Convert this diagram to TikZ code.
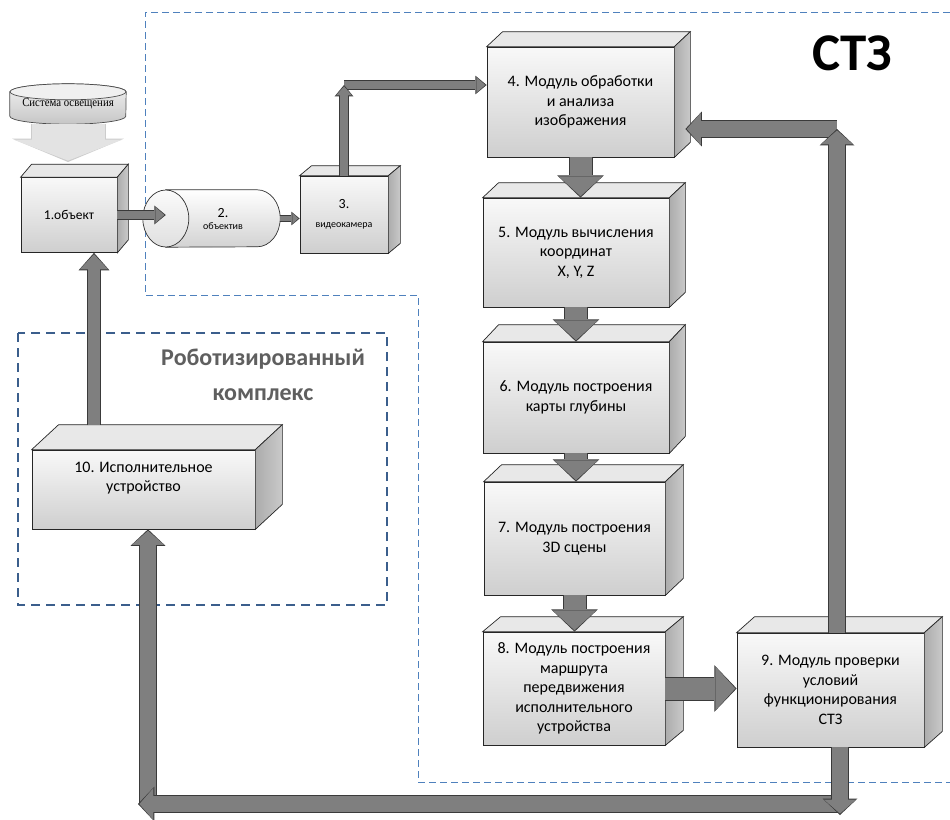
\documentclass[tikz,border=0pt]{standalone}
\usepackage{fontspec}
\setmainfont{Carlito}
\newfontfamily\lampfont[FakeStretch=0.9]{Liberation Serif}
\usetikzlibrary{arrows.meta,calc,backgrounds}

\definecolor{arrowgray}{HTML}{7F7F7F}
\definecolor{arrowedge}{HTML}{3A3A3A}
\definecolor{stzblue}{HTML}{4F81BD}
\definecolor{rkblue}{HTML}{3B5E8C}
\definecolor{rktext}{HTML}{5F5F5F}

\begin{document}
\begin{tikzpicture}[
		x=1pt, y=-1pt,
		cube/.style = {draw=black!85, line width=.7pt, top color=gray!5, bottom color=gray!38, align=center, inner sep=2pt, font=\fontsize{16}{19.5}\selectfont},
		topface/.style = {draw=black!85, line width=.7pt, fill=gray!18},
		sideface/.style = {draw=black!85, line width=.7pt, left color=gray!65, right color=gray!42},
		lamp/.style = {draw=black!70, line width=.7pt, top color=gray!10, bottom color=gray!45},
		lamptop/.style = {draw=black!70, line width=.7pt, fill=gray!12},
		tube/.style = {draw=black!80, line width=.7pt, top color=white, bottom color=gray!35},
		tubeend/.style = {draw=black!80, line width=.7pt, top color=gray!3, bottom color=gray!25},
		blockarrow/.style n args = {3}{draw=arrowgray, line width=#1pt, shorten >=1.4pt,
			-{Triangle[length=#3pt, width=#2pt, line width=0pt]},
			preaction={draw=arrowedge, line width=#1pt+2pt, shorten >=0pt,
				-{Triangle[length=#3pt+2.4pt, width=#2pt+2.8pt, line width=0pt]}}},
		big/.style = {blockarrow={22}{44}{20}},
		mid/.style = {blockarrow={16}{32}{14}},
		slim/.style = {blockarrow={12}{28}{15}},
		small/.style = {blockarrow={8}{16}{9}},
		tiny/.style = {blockarrow={5}{11}{6}},
		lightarrow/.style = {draw=gray!22, line width=73pt, shorten >=1.4pt,
			-{Triangle[length=21pt, width=109pt, line width=0pt]},
			preaction={draw=gray!40, line width=75pt, shorten >=0pt,
				-{Triangle[length=23.4pt, width=111.8pt, line width=0pt]}}},
		zone/.style = {draw=stzblue, line width=.9pt, dash pattern=on 7pt off 4pt},
		rkzone/.style = {draw=rkblue, line width=2.2pt, dash pattern=on 9pt off 6pt}
	]
	\useasboundingbox (0,0) rectangle (950,819);

	% Light and object.
	\node[minimum width=116pt, minimum height=40pt, inner sep=0pt, font=\lampfont\fontsize{12}{14}\selectfont] (light) at (68,104) {Система освещения};
	\node[cube, minimum width=96pt, minimum height=75pt, font=\fontsize{13.5}{16}\selectfont] (o1) at (69,215) {1.объект};
	\node[minimum width=114pt, minimum height=57pt, inner sep=0pt, align=center] (lens) at (223,218.5)
		{{\fontsize{14}{15}\selectfont 2.}\\{\fontsize{10}{12}\selectfont объектив}};
	\node[cube, minimum width=88pt, minimum height=77pt] (m3) at (344,214.5)
		{{\fontsize{14}{15}\selectfont 3.}\\{\fontsize{10}{12}\selectfont видеокамера}};

	% Modules.
	\node[cube, minimum width=187pt, minimum height=110pt] (m4) at (580.5,102) {4. Модуль обработки\\и анализа\\изображения};
	\node[cube, minimum width=186pt, minimum height=109pt] (m5) at (576,252.5) {5. Модуль вычисления\\координат\\X, Y, Z};
	\node[cube, minimum width=186pt, minimum height=111pt] (m6) at (576,397.5) {6. Модуль построения\\карты глубины};
	\node[cube, minimum width=181pt, minimum height=113pt] (m7) at (574.5,538.5) {7. Модуль построения\\3D сцены};
	\node[cube, minimum width=182pt, minimum height=113pt] (m8) at (574,688.5) {8. Модуль построения\\маршрута\\передвижения\\исполнительного\\устройства};
	\node[cube, minimum width=187pt, minimum height=114pt] (m9) at (830.5,690) {9. Модуль проверки\\условий\\функционирования\\СТЗ};
	\node[cube, minimum width=223pt, minimum height=79pt] (m10) at (143.5,489.5) {10. Исполнительное\\устройство\\[6pt]};

	\node[font=\bfseries\fontsize{24}{35}\selectfont, text=rktext, align=center] (rk) at (263,375) {Роботизированный\\комплекс};
	\node[font=\bfseries\fontsize{53}{60}\selectfont] (stz) at (852,53) {СТЗ};

	\begin{scope}[on background layer]
		\fill[white] (0,0) rectangle (950,819);
		\draw[zone] (950,12) -- (145,12) -- (145,295) -- (418,295) -- (418,782) -- (950,782);
		\draw[rkzone] (18,333) rectangle (387,605);
		\draw[lamp] ($(light.north west)+(0,8)$) -- ($(light.south west)+(0,-8)$)
			arc[start angle=180, end angle=360, x radius=58pt, y radius=8pt]
			-- ($(light.north east)+(0,8)$)
			arc[start angle=0, end angle=180, x radius=58pt, y radius=8pt] -- cycle;
		\draw[lamptop] ($(light.north)+(0,8)$) ellipse [x radius=58pt, y radius=8pt];
		\draw[tube] (lens.north west) -- ($(lens.north east)+(-23,0)$)
			arc[start angle=90, end angle=-90, x radius=23pt, y radius=28.5pt]
			-- (lens.south west) -- cycle;
		\draw[tubeend] (lens.west) ellipse [x radius=23pt, y radius=28.5pt];
	\end{scope}

	% 3D faces.
	\foreach \n/\dx/\dy in {o1/11/13, m3/12/10, m4/16/15, m5/16/15, m6/16/17, m7/18/17, m8/18/15, m9/18/16, m10/27/25} {
		\draw[topface] (\n.north west) -- ++(\dx,-\dy) -- ($(\n.north east)+(\dx,-\dy)$) -- (\n.north east) -- cycle;
		\draw[sideface] (\n.north east) -- ++(\dx,-\dy) -- ($(\n.south east)+(\dx,-\dy)$) -- (\n.south east) -- cycle;
	}

	\coordinate (ltip) at (68,162);
	\coordinate (c34) at (344,85);
	\coordinate (c94) at (837,129);
	\coordinate (c9d) at (840,815);
	\coordinate (cbl) at (138,804);
	\coordinate (cb10) at (148,804);
	\coordinate (c10) at (94,425);

	% Arrows.
	\draw[lightarrow] (light.south) -- (ltip);
	\draw[small] (o1.east) -- (o1.east -| lens.west);
	\draw[tiny] (lens.east) -- (lens.east -| m3.west);
	\draw[small] (c34) -- (c34 -| m4.west);
	\draw[small] (m3.north) -- (c34);
	\draw[big] (m4.south) -- (m4.south |- m5.north);
	\draw[big] (m5.south) -- (m5.south |- m6.north);
	\draw[big] (m6.south) -- (m6.south |- m7.north);
	\draw[big] (m7.south) -- (m7.south |- m8.north);
	\draw[big] (m8.east) -- (m8.east -| m9.west);
	\draw[mid] (c94) -- ($(c94 -| m4.east)+(11,0)$);
	\draw[mid] (c94 |- m9.north) -- (c94);
	\draw[mid] (cb10) -- (cb10 |- m10.south);
	\draw[mid] (c9d |- cbl) -- (cbl);
	\draw[mid] (c9d |- m9.south) -- (c9d);
	\draw[slim] (c10) -- (c10 |- o1.south);
\end{tikzpicture}
\end{document}
